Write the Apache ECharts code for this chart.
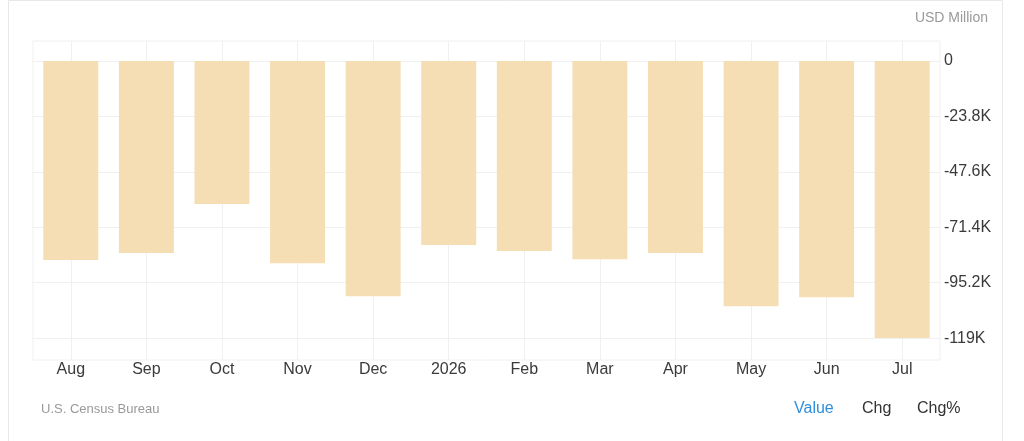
<!DOCTYPE html>
<html>
<head>
<meta charset="utf-8">
<script src="https://cdn.jsdelivr.net/npm/echarts@6/dist/echarts.min.js"></script>
<style>
html,body{margin:0;padding:0;background:#fff;}
#c{width:1024px;height:441px;}
</style>
</head>
<body>
<div id="c"></div>
<script>
const categories = ['Aug','Sep','Oct','Nov','Dec','2026','Feb','Mar','Apr','May','Jun','Jul'];
const values = [-85500,-82500,-61400,-86800,-101000,-79000,-81600,-85100,-82500,-105300,-101400,-119000];
const yTicks = [0,-23800,-47600,-71400,-95200,-119000];
const yTickLabels = ['0','-23.8K','-47.6K','-71.4K','-95.2K','-119K'];

const FF = 'Liberation Sans, Arial, sans-serif';
const chart = echarts.init(document.getElementById('c'), null, {renderer:'canvas'});
const option = {
  animation:false,
  grid:{left:33,right:84,top:41,bottom:81,show:true,borderColor:'#f0f0f0',borderWidth:1},
  xAxis:{
    type:'category',
    data:categories,
    axisLine:{show:false},
    axisTick:{show:false},
    axisLabel:{color:'#3a3a3a',fontSize:16,fontFamily:FF,margin:2,interval:0},
    splitLine:{show:true,alignWithLabel:true,lineStyle:{color:'#f0f0f0',width:1}}
  },
  yAxis:{
    type:'value',
    position:'right',
    min:-128400,
    max:8600,
    axisLine:{show:false},
    axisTick:{show:false,customValues:yTicks},
    axisLabel:{
      customValues:yTicks,
      color:'#3a3a3a',fontSize:16,fontFamily:FF,margin:4,
      formatter:function(v){const i=yTicks.indexOf(v);return i>=0?yTickLabels[i]:'';}
    },
    splitLine:{show:true,lineStyle:{color:'#f0f0f0',width:1}}
  },
  series:[{
    type:'bar',
    data:values,
    barWidth:'72.7%',
    itemStyle:{color:'#f5deb3'}
  }],
  graphic:[
    {type:'rect',shape:{x:8.5,y:0.5,width:994,height:445},style:{fill:'none',stroke:'#e8e8e8',lineWidth:1},silent:true,z:-10},
    {type:'text',right:36,top:11,style:{text:'USD Million',fill:'#999',fontSize:14,fontFamily:FF}},
    {type:'text',left:41,top:403,style:{text:'U.S. Census Bureau',fill:'#999',fontSize:13,fontFamily:FF}},
    {type:'text',left:794,top:401,style:{text:'Value',fill:'#2f8fdc',fontSize:16,fontFamily:FF}},
    {type:'text',left:862,top:401,style:{text:'Chg',fill:'#333',fontSize:16,fontFamily:FF}},
    {type:'text',left:917,top:401,style:{text:'Chg%',fill:'#333',fontSize:16,fontFamily:FF}}
  ]
};
chart.setOption(option);
</script>
</body>
</html>
